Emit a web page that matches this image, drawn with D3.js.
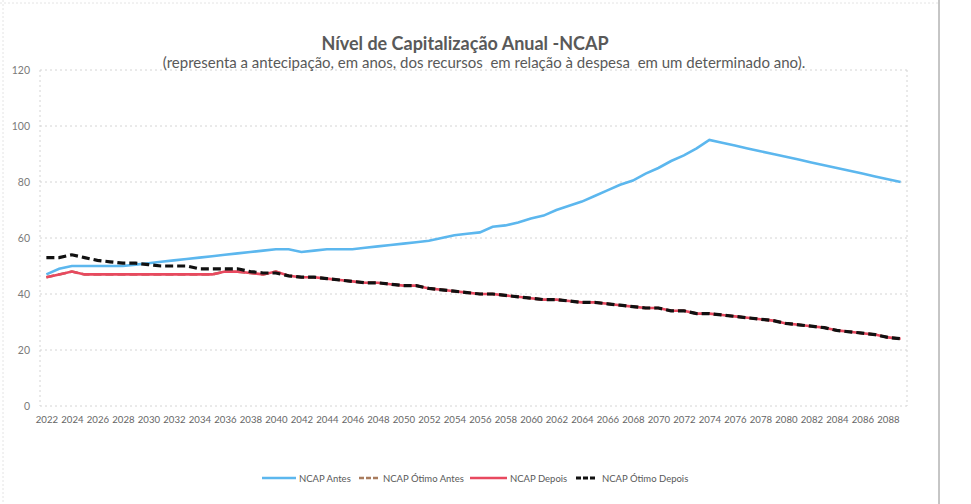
<!DOCTYPE html>
<html>
<head>
<meta charset="utf-8">
<style>
  body { margin: 0; background: #fff; }
  text { font-family: Lato, "Open Sans", sans-serif; }
</style>
<title>Nível de Capitalização Anual -NCAP</title>
</head>
<body>
<script src="https://cdn.jsdelivr.net/npm/d3@7"></script>
<script>
// years 2022..2089
var years = d3.range(2022, 2090);
var yTicks = [0, 20, 40, 60, 80, 100, 120];

var seriesNames = ["NCAP Antes", "NCAP Ótimo Antes", "NCAP Depois", "NCAP Ótimo Depois"];

var ncapAntes = [47, 49, 50, 50, 50, 50, 50, 50.5, 51, 51.5, 52, 52.5, 53, 53.5, 54, 54.5, 55, 55.5, 56,
  56, 55, 55.5, 56, 56, 56, 56.5, 57, 57.5, 58, 58.5, 59, 60, 61, 61.5, 62, 64, 64.5, 65.5, 67, 68,
  70, 71.5, 73, 75, 77, 79, 80.5, 83, 85, 87.5, 89.5, 92, 95,
  94, 93, 92, 91, 90, 89, 88, 87, 86, 85, 84, 83, 82, 81, 80];

var tail = [46.5, 46, 46, 45.5, 45, 44.5, 44, 44, 43.5, 43, 43, 42, 41.5, 41, 40.5, 40, 40, 39.5, 39,
  38.5, 38, 38, 37.5, 37, 37, 36.5, 36, 35.5, 35, 35, 34, 34, 33, 33, 32.5, 32, 31.5, 31, 30.5, 29.5,
  29, 28.5, 28, 27, 26.5, 26, 25.5, 24.5, 24];

var ncapDepois = [46, 47, 48, 47, 47, 47, 47, 47, 47, 47, 47, 47, 47, 47, 48, 48, 47.5, 47, 48].concat(tail);
var ncapOtimoAntes = ncapDepois.slice();
var ncapOtimoDepois = [53, 53, 54, 53, 52, 51.5, 51, 51, 50.5, 50, 50, 50, 49, 49, 49, 49, 48, 47.5, 47.5].concat(tail);

var w = 971, h = 504;
var margin = {top: 70, right: 64, bottom: 98, left: 40};

var svg = d3.select("body").append("svg")
  .attr("width", w)
  .attr("height", h);

var x = d3.scalePoint().domain(years).range([margin.left, w - margin.right]).padding(0.5);
var y = d3.scaleLinear().domain([0, 120]).range([h - margin.bottom, margin.top]);

// outer frame bits
svg.append("line").attr("x1", 939).attr("x2", 939).attr("y1", 0).attr("y2", h)
  .attr("stroke", "#8c8c8c").attr("stroke-width", 1);
svg.append("line").attr("x1", 3).attr("x2", 3).attr("y1", 0).attr("y2", h)
  .attr("stroke", "#e4e4e4").attr("stroke-dasharray", "2,2");
svg.append("line").attr("x1", 0).attr("x2", 939).attr("y1", 3).attr("y2", 3)
  .attr("stroke", "#e4e4e4").attr("stroke-dasharray", "2,2");

// gridlines
svg.append("g").selectAll("line")
  .data(yTicks).enter().append("line")
  .attr("x1", margin.left).attr("x2", w - margin.right)
  .attr("y1", d => y(d)).attr("y2", d => y(d))
  .attr("stroke", "#d4d4d4").attr("stroke-dasharray", "2,3");

// plot area sides
[margin.left, w - margin.right].forEach(function (xx) {
  svg.append("line").attr("x1", xx).attr("x2", xx)
    .attr("y1", y(120)).attr("y2", y(0))
    .attr("stroke", "#d4d4d4").attr("stroke-dasharray", "2,3");
});

// y axis
var yAxis = svg.append("g")
  .attr("transform", `translate(${margin.left - 10},0)`)
  .call(d3.axisLeft(y).tickValues(yTicks).tickSize(0).tickPadding(0));
yAxis.select(".domain").remove();
yAxis.selectAll("text").attr("fill", "#7a7a7a").style("font-size", "10.5px").style("font-family", "Lato, sans-serif");

// x axis
var xAxis = svg.append("g")
  .attr("transform", `translate(0,${y(0) + 10})`)
  .call(d3.axisBottom(x).tickValues(years.filter(d => d % 2 == 0)).tickSize(0).tickPadding(0));
xAxis.select(".domain").remove();
xAxis.selectAll("text").attr("fill", "#666").style("font-size", "9.6px").style("font-family", "Lato, sans-serif");

// lines
var line = d3.line()
  .x(function (d, i) { return x(years[i]); })
  .y(function (d) { return y(d); });

var styles = [
  {data: ncapAntes, color: "#5cb7ee", width: 2.6, dash: null},
  {data: ncapOtimoAntes, color: "#a97c5e", width: 2.6, dash: "8,4"},
  {data: ncapDepois, color: "#e8495f", width: 2.6, dash: null},
  {data: ncapOtimoDepois, color: "#111", width: 3.2, dash: "8,4"}
];

styles.forEach(function (s) {
  svg.append("path")
    .datum(s.data)
    .attr("fill", "none")
    .attr("stroke", s.color)
    .attr("stroke-width", s.width)
    .attr("stroke-dasharray", s.dash)
    .attr("d", line);
});

// title
svg.append("text")
  .attr("x", 465).attr("y", 50)
  .attr("text-anchor", "middle")
  .attr("fill", "#595959")
  .style("font-size", "18px").style("font-weight", "bold")
  .text("Nível de Capitalização Anual -NCAP");

svg.append("text")
  .attr("x", 484).attr("y", 68)
  .attr("text-anchor", "middle")
  .attr("fill", "#595959")
  .style("font-size", "15px")
  .style("white-space", "pre")
  .attr("xml:space", "preserve")
  .text("(representa a antecipação, em anos, dos recursos  em relação à despesa  em um determinado ano).");

// legend
var legendX = [262, 359, 470, 576];
var legendLen = [34, 19, 37, 20];
var legendTextX = [299, 383, 510, 602];
var legend = svg.append("g").attr("transform", "translate(0,478)");
styles.forEach(function (s, i) {
  legend.append("line")
    .attr("x1", legendX[i]).attr("x2", legendX[i] + legendLen[i])
    .attr("y1", 0).attr("y2", 0)
    .attr("stroke", s.color).attr("stroke-width", s.width)
    .attr("stroke-dasharray", s.dash ? "5,2" : null);
  legend.append("text")
    .attr("x", legendTextX[i]).attr("y", 3.5)
    .attr("fill", "#595959")
    .style("font-size", "9.5px")
    .text(seriesNames[i]);
});
</script>
</body>
</html>
